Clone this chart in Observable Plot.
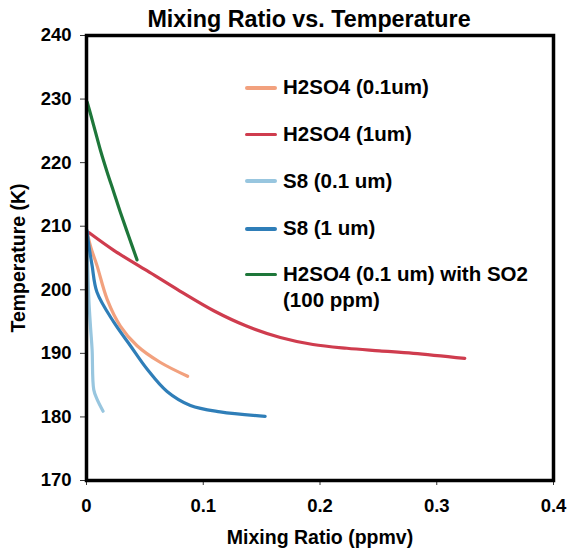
<!DOCTYPE html>
<html>
<head>
<meta charset="utf-8">
<script src="https://cdn.jsdelivr.net/npm/d3@7"></script>
<script src="https://cdn.jsdelivr.net/npm/@observablehq/plot@0.6"></script>
<style>
  html, body { margin: 0; padding: 0; background: #fff; }
  #wrap { position: relative; width: 568px; height: 549px; font-family: "Liberation Sans", Arial, sans-serif; }
  #title { position: absolute; left: 0; width: 618px; top: 6px; text-align: center; font-weight: bold; font-size: 23.3px; line-height: 27px; color: #000; white-space: nowrap; }
  .leg { position: absolute; font-weight: bold; font-size: 20.5px; color: #000; line-height: 26px; white-space: nowrap; }
  .sw { position: absolute; width: 32px; height: 3.5px; border-radius: 2px; }
</style>
</head>
<body>
<div id="wrap">
  <div id="title">Mixing Ratio vs. Temperature</div>
</div>
<script>
const seriesNames = ["H2SO4 (0.1um)", "H2SO4 (1um)", "S8 (0.1 um)", "S8 (1 um)", "H2SO4 (0.1 um) with SO2\n(100 ppm)"];
const seriesColors = ["#F2A17E", "#CF3C4E", "#98C6DF", "#2F7EB8", "#1E773A"];

const h2so4_01_x = [0.0005, 0.004, 0.009, 0.0177, 0.029, 0.0433, 0.063, 0.0866];
const h2so4_01_t = [209.0, 206.5, 203.8, 198.5, 194.3, 191.2, 188.6, 186.4];

const h2so4_1_x = [0.002, 0.0234, 0.0518, 0.080, 0.109, 0.137, 0.166, 0.194, 0.223, 0.251, 0.280, 0.324];
const h2so4_1_t = [209.0, 206.2, 203.0, 199.8, 196.7, 194.3, 192.5, 191.4, 190.8, 190.4, 190.0, 189.2];

const s8_01_x = [0.0003, 0.001, 0.002, 0.0035, 0.0048, 0.0062, 0.009, 0.0142];
const s8_01_t = [209.0, 204.0, 198.5, 194.0, 190.6, 184.3, 182.8, 180.9];

const s8_1_x = [0.0005, 0.002, 0.0048, 0.009, 0.0234, 0.0376, 0.052, 0.069, 0.089, 0.1145, 0.153];
const s8_1_t = [209.3, 207.0, 203.8, 199.6, 194.9, 191.2, 187.5, 184.0, 181.8, 180.8, 180.1];

const h2so4_so2_x = [0.0006, 0.0034, 0.0077, 0.012, 0.0177, 0.0233, 0.029, 0.036, 0.0433];
const h2so4_so2_t = [229.5, 227.7, 224.8, 221.9, 218.5, 215.4, 212.2, 208.5, 204.7];

const xTicks = [0, 0.1, 0.2, 0.3, 0.4];
const yTicks = [170, 180, 190, 200, 210, 220, 230, 240];

const seriesX = [h2so4_01_x, h2so4_1_x, s8_01_x, s8_1_x, h2so4_so2_x];
const seriesT = [h2so4_01_t, h2so4_1_t, s8_01_t, s8_1_t, h2so4_so2_t];

const rows = [];
seriesNames.forEach((name, i) => {
  seriesX[i].forEach((x, j) => rows.push({series: name, x, t: seriesT[i][j]}));
});

const chart = Plot.plot({
  width: 568,
  height: 549,
  marginTop: 35,
  marginBottom: 69,
  marginLeft: 86,
  marginRight: 15,
  style: {fontFamily: "Liberation Sans, Arial, sans-serif", fontSize: "18.5px", fontWeight: "bold", color: "#000", background: "#fff"},
  x: {domain: [0, 0.4]},
  y: {domain: [170, 240]},
  color: {domain: seriesNames, range: seriesColors},
  marks: [
    Plot.axisX({ticks: xTicks, tickSize: 5, tickPadding: 13, tickFormat: d => d === 0 ? "0" : String(d), label: null, stroke: "#333"}),
    Plot.axisX({ticks: [], label: "Mixing Ratio (ppmv)", labelAnchor: "center", labelOffset: 63, labelArrow: "none", fontSize: 19.5}),
    Plot.axisY({ticks: yTicks, tickSize: 6, tickPadding: 9, tickFormat: d => String(d), label: null, stroke: "#333"}),
    Plot.axisY({ticks: [], label: "Temperature (K)", labelAnchor: "center", labelOffset: 75, labelArrow: "none", fontSize: 19.5}),
    Plot.line(rows, {x: "x", y: "t", z: "series", stroke: "series", strokeWidth: 3.2, curve: "catmull-rom", strokeLinecap: "round", strokeLinejoin: "round"}),
    Plot.frame({stroke: "#000", strokeWidth: 3.5})
  ]
});

const wrap = document.getElementById("wrap");
wrap.insertBefore(chart, wrap.firstChild);

// legend (HTML overlay)
const legTop = [74.3, 120.9, 167.6, 215.3, 260.9];
seriesNames.forEach((name, i) => {
  const sw = document.createElement("div");
  sw.className = "sw";
  sw.style.left = "245px";
  sw.style.top = (legTop[i] + 11.8) + "px";
  sw.style.background = seriesColors[i];
  wrap.appendChild(sw);
  const lab = document.createElement("div");
  lab.className = "leg";
  lab.style.left = "283px";
  lab.style.top = legTop[i] + "px";
  lab.innerHTML = name.replace("\n", "<br>");
  wrap.appendChild(lab);
});
</script>
</body>
</html>
